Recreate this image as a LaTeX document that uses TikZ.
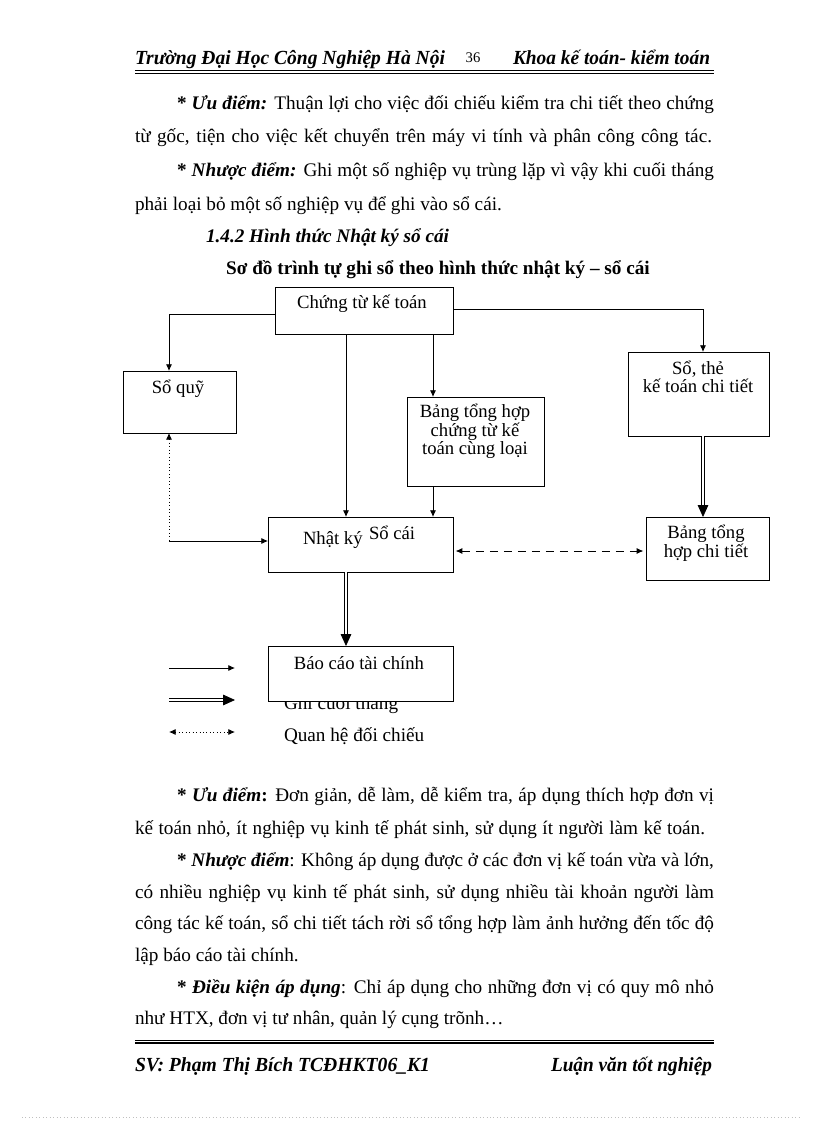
\documentclass[tikz,border=0pt]{standalone}
\usepackage{fontspec}
\usepackage{graphicx}
\setmainfont{Liberation Serif}
\usetikzlibrary{arrows.meta}
\newcommand{\jl}[2]{\makebox[\dimexpr #1pt*3/4\relax][s]{#2}}
\begin{document}
\begin{tikzpicture}[x=0.75pt,y=-0.75pt,
  every node/.style={inner sep=0pt, outer sep=0pt},
  body/.style={font=\fontsize{14.4}{17}\selectfont, anchor=base west},
  hdr/.style={font=\fontsize{15}{18}\selectfont\bfseries\itshape, anchor=base west},
  box/.style={draw, line width=0.6pt, fill=white, anchor=north west},
  dtext/.style={font=\fontsize{14}{12.2}\selectfont, align=center},
  arr/.style={line width=0.6pt, -{Latex[length=5pt,width=4.5pt]}},
  dbl/.style={double, double distance=1.6pt, line width=0.6pt, -{Triangle[length=9pt,width=8pt]}},
  dsh/.style={line width=0.6pt, dash pattern=on 6pt off 4.5pt, {Latex[length=5pt,width=4.5pt]}-{Latex[length=5pt,width=4.5pt]}},
  dot/.style={line width=0.6pt, dotted},
  hline/.style={line width=#1}
]
\useasboundingbox (0,0) rectangle (816,1123);

% header
\node[hdr] (h1) at (135,65) {\resizebox{232.5pt}{\height}{Trường Đại Học Công Nghiệp Hà Nội}};
\node[font=\fontsize{11}{13}\selectfont, anchor=base] (h2) at (473,63) {36};
\node[hdr] (h3) at (513,65) {\resizebox{147.75pt}{\height}{Khoa kế toán- kiểm toán}};
\coordinate (hl1) at (135,70.5); \coordinate (hr1) at (714,70.5);
\coordinate (hl2) at (135,73.5); \coordinate (hr2) at (714,73.5);
\draw[hline=1.4pt] (hl1) -- (hr1);
\draw[hline=0.5pt] (hl2) -- (hr2);

% top paragraphs
\node[body] (t1) at (177,110) {\jl{537}{\textbf{* \textit{Ưu điểm:}} Thuận lợi cho việc đối chiếu kiểm tra chi tiết theo chứng}};
\node[body] (t2) at (135,143) {\jl{577}{từ gốc, tiện cho việc kết chuyển trên máy vi tính và phân công công tác.}};
\node[body] (t3) at (177,177) {\jl{537}{\textbf{* \textit{Nhược điểm:}} Ghi một số nghiệp vụ trùng lặp vì vậy khi cuối tháng}};
\node[body] (t4) at (135,210) {phải loại bỏ một số nghiệp vụ để ghi vào sổ cái.};
\node[body, font=\fontsize{14.4}{17}\selectfont\bfseries\itshape] (t5) at (206,243) {1.4.2 Hình thức Nhật ký sổ cái};
\node[body, font=\fontsize{14.4}{17}\selectfont\bfseries, anchor=base] (t6) at (438,274) {Sơ đồ trình tự ghi sổ theo hình thức nhật ký – sổ cái};

% legend text partly hidden
\node[body] (lg2) at (284,709) {Ghi cuối tháng};
\node[body] (lg3) at (284,741) {Quan hệ đối chiếu};

% boxes
\node[box, minimum width=178*0.75pt, minimum height=47*0.75pt] (ct) at (275,287) {};
\node[box, minimum width=113*0.75pt, minimum height=62*0.75pt] (sq) at (123,371) {};
\node[box, minimum width=137*0.75pt, minimum height=89*0.75pt] (bth) at (407,397) {};
\node[box, minimum width=141*0.75pt, minimum height=84*0.75pt] (st) at (628,352) {};
\node[box, minimum width=185*0.75pt, minimum height=55*0.75pt] (nk) at (268,517) {};
\node[box, minimum width=123*0.75pt, minimum height=63*0.75pt] (btct) at (646,517) {};
\node[box, minimum width=185*0.75pt, minimum height=55*0.75pt] (bc) at (268,646) {};

% box texts
\node[dtext] (ctT) at (362,304) {Chứng từ kế toán};
\node[dtext] (sqT) at (178,389) {Sổ quỹ};
\node[dtext] (bthT) at (475,431) {Bảng tổng hợp\\chứng từ kế\\toán cùng loại};
\node[dtext] (stT) at (698,377) {Sổ, thẻ\\kế toán chi tiết};
\node[dtext] (btctT) at (706,543) {Bảng tổng\\hợp chi tiết};
\node[dtext, anchor=base west] (nkT1) at (303,544) {Nhật ký};
\node[dtext, anchor=base west] (nkT2) at (369,539) {Sổ cái};
\node[dtext] (bcT) at (359,663) {Báo cáo tài chính};

% connectors
\coordinate (cA) at (169,314);
\draw[arr] (cA -| ct.west) -- (cA) -- (cA |- sq.north);
\coordinate (cB) at (346,0);
\draw[arr] (cB |- ct.south) -- (cB |- nk.north);
\coordinate (cC) at (433,0);
\draw[arr] (cC |- ct.south) -- (cC |- bth.north);
\draw[arr] (cC |- bth.south) -- (cC |- nk.north);
\coordinate (cD) at (703,309);
\draw[arr] (cD -| ct.east) -- (cD) -- (cD |- st.north);
\draw[dbl] (cD |- st.south) -- (cD |- btct.north);
\coordinate (cE) at (0,551);
\draw[dsh, shorten <=2pt, shorten >=2pt] (cE -| nk.east) -- (cE -| btct.west);
\draw[dbl] (cB |- nk.south) -- (cB |- bc.north);
\coordinate (cF) at (169,541);
\draw[dot, {Latex[length=5pt,width=4.5pt]}-] (cF |- sq.south) -- (cF);
\draw[arr] (cF) -- (cF -| nk.west);

% legend arrows
\coordinate (l1a) at (169,668); \coordinate (l1b) at (235,668);
\coordinate (l2a) at (169,700); \coordinate (l2b) at (235,700);
\coordinate (l3a) at (169,732); \coordinate (l3b) at (235,732);
\draw[arr] (l1a) -- (l1b);
\draw[dbl] (l2a) -- (l2b);
\draw[dot, {Latex[length=5pt,width=4.5pt]}-{Latex[length=5pt,width=4.5pt]}] (l3a) -- (l3b);

% bottom paragraphs
\node[body] (b1) at (177,801) {\jl{537}{\textbf{* \textit{Ưu điểm}:} Đơn giản, dễ làm, dễ kiểm tra, áp dụng thích hợp đơn vị}};
\node[body] (b2) at (135,834) {\jl{570}{kế toán nhỏ, ít nghiệp vụ kinh tế phát sinh, sử dụng ít người làm kế toán.}};
\node[body] (b3) at (177,866) {\jl{537}{\textbf{* \textit{Nhược điểm}}: Không áp dụng được ở các đơn vị kế toán vừa và lớn,}};
\node[body] (b4) at (135,898) {\jl{579}{có nhiều nghiệp vụ kinh tế phát sinh, sử dụng nhiều tài khoản người làm}};
\node[body] (b5) at (135,929) {\jl{579}{công tác kế toán, sổ chi tiết tách rời sổ tổng hợp làm ảnh hưởng đến tốc độ}};
\node[body] (b6) at (135,961) {lập báo cáo tài chính.};
\node[body] (b7) at (177,993) {\jl{537}{\textbf{* \textit{Điều kiện áp dụng}}: Chỉ áp dụng cho những đơn vị có quy mô nhỏ}};
\node[body] (b8) at (135,1024) {như HTX, đơn vị tư nhân, quản lý cụng trõnh…};

% footer
\coordinate (fl1) at (135,1040); \coordinate (fr1) at (714,1040);
\coordinate (fl2) at (135,1043); \coordinate (fr2) at (714,1043);
\draw[hline=0.5pt] (fl1) -- (fr1);
\draw[hline=1.4pt] (fl2) -- (fr2);
\node[hdr] (f1) at (135,1071) {\resizebox{221.25pt}{\height}{SV: Phạm Thị Bích TCĐHKT06\_K1}};
\node[hdr] (f2) at (551,1071) {\resizebox{120.75pt}{\height}{Luận văn tốt nghiệp}};

% page edge dots
\coordinate (pd1) at (22,1117); \coordinate (pd2) at (800,1117);
\draw[gray!50, dotted, line width=0.6pt] (pd1) -- (pd2);
\end{tikzpicture}
\end{document}
